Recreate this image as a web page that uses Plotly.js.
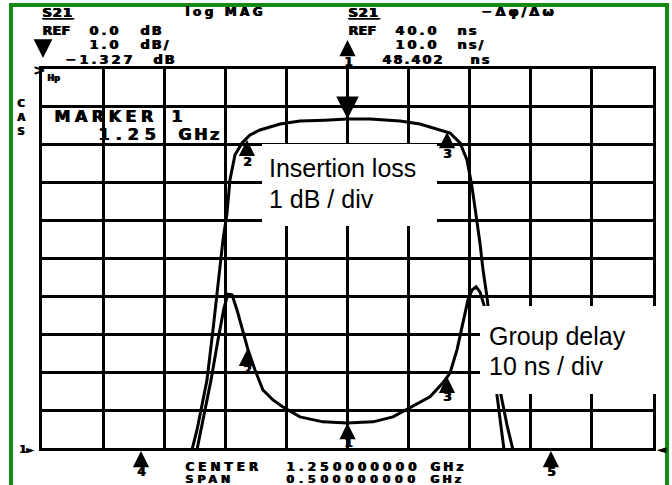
<!DOCTYPE html>
<html><head><meta charset="utf-8">
<script src="https://cdn.plot.ly/plotly-3.0.1.min.js"></script>
<style>html,body{margin:0;padding:0;background:#fff;}#chart{width:672px;height:485px;}</style>
</head><body><div id="chart"></div>
<script>
// ---- data (frequency in GHz) ----
const ilFreq = [1.1227,1.1268,1.1309,1.1350,1.1399,1.1432,1.1457,1.1481,1.1514,1.1538,1.1579,1.1637,1.1702,1.1784,1.1948,1.2111,1.2316,1.2496,1.2684,1.2930,1.3093,1.3216,1.3339,1.3421,1.3478,1.3519,1.3560,1.3584,1.3609,1.3642,1.3666,1.3699,1.3723,1.3748,1.3781];
const ilDb   = [-10.05,-9.53,-8.87,-8.21,-6.89,-5.96,-5.12,-4.51,-3.80,-2.93,-2.27,-1.95,-1.74,-1.61,-1.45,-1.37,-1.35,-1.32,-1.32,-1.37,-1.45,-1.56,-1.69,-1.95,-2.40,-3.11,-3.98,-4.59,-5.30,-6.02,-6.75,-7.68,-8.60,-9.26,-10.05];
const gdFreq = [1.1268,1.1326,1.1383,1.1440,1.1489,1.1522,1.1555,1.1596,1.1645,1.1686,1.1743,1.1808,1.1890,1.1972,1.2111,1.2300,1.2496,1.2709,1.2872,1.3011,1.3175,1.3281,1.3339,1.3396,1.3445,1.3486,1.3519,1.3552,1.3584,1.3617,1.3666,1.3715,1.3764,1.3805,1.3854];
const gdNs   = [39.5,48.7,57.9,68.5,76.9,80.6,80.4,76.4,70.6,65.9,60.6,55.3,52.7,50.8,48.2,46.9,46.6,46.9,48.2,50.6,53.5,57.2,59.8,65.9,73.2,79.1,81.7,82.5,81.2,77.7,69.8,60.6,52.7,46.1,39.5];
const markerIds  = ['1','2','3'];
const markerFreq = [1.25, 1.1677, 1.3314];
const markerIL   = [-1.32, -1.87, -1.66];
const markerGD   = [46.6, 65.9, 58.8];
const offIds  = ['4','5'];
const offFreq = [1.081, 1.4165];
const centerGHz = 1.25, spanGHz = 0.5;
const ilRef = 0.0, ilScale = 1.0, gdRef = 40.0, gdScale = 10.0;
const markerReadIL = '−1.327', markerReadGD = '48.402', markerReadF = '1.25';

// ---- layout helpers (pixel -> paper) ----
const L=42, R=19, T=69, B=37, PW=672-L-R, PH=485-T-B;
const xp = px => (px-L)/PW;
const yp = py => (T+PH-py)/PH;
const HP = 'DejaVu Sans';
const SH = '1px 0 0 #000';
function txt(t, px, py, size, ls, under){
  return {xref:'paper', yref:'paper', x:xp(px), y:yp(py), xanchor:'left', yanchor:'middle',
    showarrow:false, borderpad:0,
    text:'<span style="letter-spacing:'+ls+'px">'+t+'</span>',
    font:{family:HP, size:size, color:'#000', weight:'bold', shadow:SH, lineposition: under?'under':'none'}};
}
function sans(t, px, py){
  return {xref:'paper', yref:'paper', x:xp(px), y:yp(py), xanchor:'left', yanchor:'middle',
    showarrow:false, borderpad:0, text:t,
    font:{family:'Liberation Sans, Arial', size:25, color:'#000'}};
}
function mk(id, x, y, yref, ay){
  return {x:x, y:y, xref:'x', yref:yref, text:id, showarrow:true,
    arrowhead:2, arrowsize:1.3, arrowwidth:2.5, arrowcolor:'#000', ax:0, ay:ay, standoff:0,
    font:{family:HP, size:12, color:'#000', weight:'bold', shadow:SH}};
}

const x0 = centerGHz - spanGHz/2, x1 = centerGHz + spanGHz/2;
const traces = [
  {x:ilFreq, y:ilDb, type:'scatter', mode:'lines', line:{color:'#000', width:3}, yaxis:'y', hoverinfo:'skip'},
  {x:gdFreq, y:gdNs, type:'scatter', mode:'lines', line:{color:'#000', width:3}, yaxis:'y2', hoverinfo:'skip'}
];

const ann = [];
// header
ann.push(txt('S21', 41, 13, 13, 1, true));
ann.push(txt('log MAG', 184, 12, 12, 3.5));
ann.push(txt('S21', 347, 13, 13, 1, true));
ann.push(txt('−Δφ/Δω', 480, 12, 13, 3));
ann.push(txt('REF', 41, 30, 13, 0));
ann.push(txt(ilRef.toFixed(1), 88, 30, 13, 3));
ann.push(txt('dB', 139, 30, 13, 2));
ann.push(txt('REF', 347, 30, 13, 0));
ann.push(txt(gdRef.toFixed(1), 394, 30, 13, 3));
ann.push(txt('ns', 456, 30, 13, 2));
ann.push(txt(ilScale.toFixed(1), 88, 44, 13, 3));
ann.push(txt('dB/', 139, 44, 13, 2));
ann.push(txt(gdScale.toFixed(1), 394, 44, 13, 3));
ann.push(txt('ns/', 456, 44, 13, 2));
ann.push(txt(markerReadIL, 64, 59, 13, 3));
ann.push(txt('dB', 152, 59, 13, 2));
ann.push(txt(markerReadGD, 381, 59, 13, 2));
ann.push(txt('ns', 469, 59, 13, 2));
// header marker symbols
ann.push({xref:'paper', yref:'paper', x:xp(43), y:yp(58), ax:0, ay:-25, text:' ', showarrow:true,
  arrowhead:2, arrowsize:1.5, arrowwidth:2.5, arrowcolor:'#000', standoff:0});
ann.push({xref:'paper', yref:'paper', x:xp(347.5), y:yp(40), ax:0, ay:22, text:'1', showarrow:true,
  arrowhead:2, arrowsize:1.3, arrowwidth:2.5, arrowcolor:'#000', standoff:0,
  font:{family:HP,size:12,color:'#000',weight:'bold',shadow:SH}});
ann.push(txt('>', 32, 70, 14, 0));
ann.push(txt('Hp', 46, 78, 8, 0));
ann.push(txt('C', 16, 104, 10, 0));
ann.push(txt('A', 16, 117, 10, 0));
ann.push(txt('S', 16, 131, 10, 0));
ann.push(txt('MARKER', 53, 116, 16, 4.5));
ann.push(txt('1', 170, 116, 16, 0));
ann.push(txt(markerReadF, 97, 134, 16, 6));
ann.push(txt('GHz', 177, 134, 16, 2.5));
ann.push(txt('1►', 18, 449, 10, 0));
ann.push(txt('◄', 656, 449, 11, 0));
// bottom
ann.push(txt('CENTER', 184, 467, 12, 4));
ann.push(txt(centerGHz.toFixed(9), 285, 467, 12, 4.2));
ann.push(txt('GHz', 429, 467, 12, 3));
ann.push(txt('SPAN', 184, 479, 11, 4));
ann.push(txt(spanGHz.toFixed(9), 285, 479, 11, 4.8));
ann.push(txt('GHz', 429, 479, 11, 3));
// trace markers
ann.push({x:markerFreq[0], y:markerIL[0], xref:'x', yref:'y', ax:0, ay:-20, text:' ', showarrow:true,
  arrowhead:2, arrowsize:1.5, arrowwidth:3, arrowcolor:'#000', standoff:0});
for (let i=1;i<3;i++) ann.push(mk(markerIds[i], markerFreq[i], markerIL[i], 'y', 22));
for (let i=0;i<3;i++) ann.push(mk(markerIds[i], markerFreq[i], markerGD[i], 'y2', 20));
for (let i=0;i<2;i++) ann.push(mk(offIds[i], offFreq[i], yp(451), 'paper', 21));
// label boxes text
ann.push(sans('Insertion loss', 268, 168));
ann.push(sans('1 dB / div', 268, 199));
ann.push(sans('Group delay', 488, 336));
ann.push(sans('10 ns / div', 488, 366));

const shapes = [
  {type:'rect', xref:'paper', yref:'paper', x0:xp(262), x1:xp(437), y0:yp(226), y1:yp(144),
   fillcolor:'#fff', line:{width:0}, layer:'above'},
  {type:'rect', xref:'paper', yref:'paper', x0:xp(480), x1:xp(662), y0:yp(394), y1:yp(306),
   fillcolor:'#fff', line:{width:0}, layer:'above'},
  {type:'rect', xref:'paper', yref:'paper', x0:xp(11), x1:xp(667), y0:yp(498), y1:yp(5),
   fillcolor:'rgba(0,0,0,0)', line:{color:'#138a13', width:4}, layer:'above'}
];

const axCommon = {showgrid:true, gridcolor:'#000', gridwidth:3, showline:true, linecolor:'#000', linewidth:3,
  mirror:true, zeroline:false, showticklabels:false, ticks:'', fixedrange:true};
const layout = {
  width:672, height:485, margin:{l:L, r:R, t:T, b:B, pad:0},
  paper_bgcolor:'#fff', plot_bgcolor:'#fff', showlegend:false,
  xaxis:Object.assign({}, axCommon, {range:[x0,x1], tick0:x0, dtick:spanGHz/10}),
  yaxis:Object.assign({}, axCommon, {range:[ilRef-10*ilScale, ilRef], tick0:ilRef, dtick:ilScale}),
  yaxis2:{overlaying:'y', range:[gdRef, gdRef+10*gdScale], showgrid:false, showline:false, zeroline:false,
    showticklabels:false, ticks:'', fixedrange:true},
  annotations:ann, shapes:shapes
};
Plotly.newPlot('chart', traces, layout, {staticPlot:true});
</script></body></html>
